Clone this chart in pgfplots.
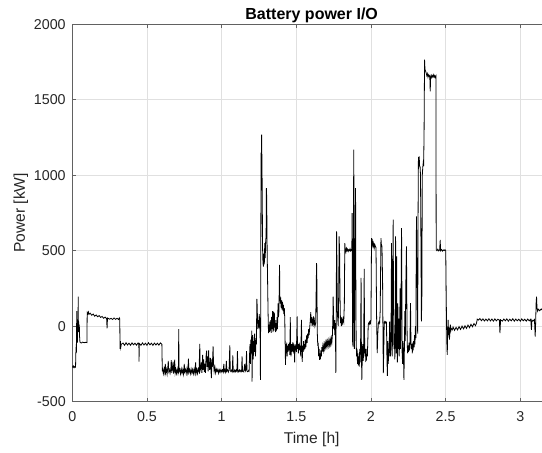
\documentclass[border=0pt]{standalone}
\usepackage{fontspec}
\setmainfont{Liberation Sans}
\usepackage{pgfplots}
\pgfplotsset{compat=1.18}

\definecolor{axgray}{gray}{0.38}
\definecolor{txtgray}{gray}{0.15}
\definecolor{gridgray}{gray}{0.88}

\begin{document}
\begin{tikzpicture}
\begin{axis}[
    name=a,
    scale only axis,
    width=358.4pt, height=283pt,
    xmin=0, xmax=3.2, ymin=-500, ymax=2000,
    xtick={0,0.5,...,3}, ytick={-500,0,...,2000},
    scaled ticks=false,
    /pgf/number format/1000 sep={},
    /pgf/number format/assume math mode=true,
    tick align=inside, major tick length=3pt,
    axis line style={axgray, line width=0.5pt},
    every tick/.style={axgray, line width=0.5pt},
    grid=major, major grid style={gridgray, line width=0.4pt},
    tick label style={font=\fontsize{10.7}{12}\selectfont, text=txtgray},
    xticklabel style={yshift=-3.9pt},
    yticklabel style={xshift=-1.4pt},
    every axis title shift=0pt,
    title={\textbf{Battery power I/O}},
    title style={font=\fontsize{12}{14}\selectfont, at={(axis description cs:0.501,1.0113)}, anchor=base, yshift=0pt},
    xlabel={Time [h]},
    xlabel style={font=\fontsize{11.7}{14}\selectfont, text=txtgray, at={(axis description cs:0.501,-0.112)}, anchor=base, yshift=0pt},
    ylabel={Power [kW]},
    ylabel style={font=\fontsize{11.7}{14}\selectfont, text=txtgray, at={(axis description cs:-0.099,0.5)}, anchor=base, xshift=0pt},
]
\addplot[black, line width=0.6pt] coordinates {
(0.000,-262) (0.004,-272) (0.008,-265) (0.012,-275) (0.016,-268) (0.020,-272) (0.022,-270)
(0.024,-180) (0.026,-140) (0.028,-150) (0.030,100) (0.032,-60) (0.034,-110) (0.036,20)
(0.038,-40) (0.040,196) (0.041,-20) (0.043,30) (0.045,-40) (0.047,10) (0.049,-70)
(0.051,-100) (0.053,-108) (0.060,-112) (0.070,-106) (0.080,-110) (0.090,-107) (0.098,-109)
(0.100,90) (0.104,82) (0.108,94) (0.112,78) (0.12,86) (0.13,72) (0.14,80) (0.15,66)
(0.16,74) (0.17,62) (0.18,70) (0.19,58) (0.20,64) (0.21,52) (0.22,60) (0.230,50)
(0.233,-15) (0.236,54) (0.25,46) (0.26,52) (0.27,44) (0.28,54) (0.29,45) (0.30,52)
(0.31,44) (0.315,55) (0.318,48) (0.320,-150) (0.322,-100) (0.325,-140) (0.328,-120)
(0.34,-112) (0.35,-127) (0.36,-110) (0.37,-125) (0.38,-113) (0.39,-127) (0.40,-111)
(0.41,-124) (0.42,-113) (0.43,-126) (0.44,-112) (0.446,-120) (0.447,-235) (0.449,-115)
(0.46,-127) (0.47,-111) (0.48,-125) (0.49,-113) (0.50,-127) (0.51,-110) (0.52,-124)
(0.53,-113) (0.54,-127) (0.55,-112) (0.56,-125) (0.57,-113) (0.58,-126) (0.59,-111)
(0.600,-120) (0.603,-300)
(0.605,-285) (0.610,-315) (0.615,-280) (0.620,-310) (0.623,-250) (0.626,-305) (0.630,-285)
(0.635,-318) (0.640,-270) (0.643,-230) (0.646,-300) (0.650,-288) (0.655,-312) (0.660,-282)
(0.663,-225) (0.666,-310) (0.670,-285) (0.675,-235) (0.678,-315) (0.682,-290) (0.686,-222)
(0.689,-310) (0.693,-287) (0.698,-314) (0.703,-283) (0.708,-312) (0.711,-290) (0.713,-20)
(0.715,-300) (0.720,-286) (0.725,-316) (0.730,-284) (0.735,-312) (0.740,-288) (0.745,-318)
(0.750,-250) (0.753,-302) (0.758,-286) (0.763,-314) (0.768,-282) (0.773,-310) (0.778,-215)
(0.781,-305) (0.786,-288) (0.791,-315) (0.796,-284) (0.801,-311) (0.806,-287) (0.811,-316)
(0.816,-285) (0.821,-310) (0.826,-240) (0.829,-312) (0.834,-286) (0.839,-314) (0.844,-283)
(0.849,-300) (0.854,-117) (0.856,-295) (0.860,-280) (0.865,-240) (0.868,-310) (0.873,-190)
(0.876,-290) (0.880,-220) (0.884,-305) (0.888,-250) (0.892,-310) (0.896,-200) (0.900,-162)
(0.903,-270) (0.906,-200) (0.910,-300) (0.913,-160) (0.916,-250) (0.920,-290) (0.925,-210)
(0.929,-300) (0.932,-345) (0.935,-220) (0.938,-270) (0.943,-134) (0.946,-250) (0.950,-300)
(0.955,-270) (0.960,-310) (0.965,-285) (0.970,-300) (0.975,-286) (0.980,-312) (0.985,-290)
(0.990,-305) (0.995,-288) (1.000,-302) (1.005,-290) (1.010,-305) (1.015,-250) (1.018,-300)
(1.022,-292) (1.027,-306) (1.032,-230) (1.035,-298) (1.040,-290) (1.045,-305) (1.050,-290)
(1.055,-127) (1.058,-295) (1.063,-302) (1.068,-290) (1.072,-300) (1.075,-193) (1.078,-298)
(1.083,-305) (1.088,-290) (1.093,-302) (1.098,-290) (1.103,-300) (1.106,-165) (1.109,-296)
(1.114,-303) (1.119,-290) (1.124,-302) (1.129,-292) (1.134,-300) (1.137,-200) (1.140,-297)
(1.145,-303) (1.150,-292) (1.155,-250) (1.158,-300) (1.163,-290) (1.167,-165) (1.170,-298)
(1.175,-302) (1.180,-296) (1.184,-300) (1.187,-200) (1.190,-120) (1.193,-250) (1.196,-90)
(1.199,-180) (1.202,-30) (1.204,-367) (1.206,-150) (1.209,-60) (1.212,-220) (1.215,-100)
(1.218,-170) (1.221,-50) (1.224,-140) (1.227,-200) (1.230,-80) (1.233,-120) (1.236,180)
(1.238,141) (1.240,60) (1.243,-20) (1.246,40) (1.249,-10) (1.252,80) (1.255,20)
(1.258,-60) (1.260,-356) (1.262,200) (1.264,1150) (1.266,900) (1.268,1268) (1.270,1100)
(1.272,900) (1.274,528) (1.277,420) (1.280,395) (1.283,480) (1.286,410) (1.289,550)
(1.292,450) (1.295,560) (1.298,600) (1.300,915) (1.302,850) (1.305,500) (1.308,300)
(1.311,100) (1.314,-47) (1.317,10) (1.320,-40) (1.323,30) (1.326,-30) (1.329,40)
(1.332,-45) (1.335,60) (1.338,-20) (1.341,100) (1.344,-40) (1.347,96) (1.350,-30)
(1.353,90) (1.356,-10) (1.359,40) (1.362,-40) (1.365,20) (1.368,-30) (1.371,60)
(1.374,-20) (1.378,150) (1.381,60) (1.384,100) (1.388,406) (1.390,200) (1.393,150)
(1.396,190) (1.399,120) (1.402,170) (1.405,110) (1.408,160) (1.411,100) (1.414,140)
(1.417,80) (1.420,120) (1.423,50) (1.426,-150) (1.428,-257) (1.430,-120) (1.433,-180)
(1.436,-110) (1.439,-200) (1.442,-130) (1.445,-170) (1.448,-120) (1.451,-160) (1.454,-110)
(1.457,-190) (1.460,60) (1.462,-140) (1.465,-200) (1.468,-120) (1.471,-170) (1.474,-130)
(1.477,-150) (1.480,-110) (1.483,-180) (1.486,-130) (1.489,-240) (1.492,-120) (1.495,-160)
(1.498,-130) (1.501,-170) (1.506,64) (1.508,-150) (1.511,-120) (1.514,-180) (1.517,-140)
(1.520,-110) (1.523,-160) (1.526,-130) (1.530,-200) (1.535,42) (1.537,-150) (1.540,-236)
(1.543,-130) (1.546,-170) (1.549,-100) (1.552,-160) (1.555,-120) (1.558,-150) (1.561,-90)
(1.564,-140) (1.567,-100) (1.570,-60) (1.573,-110) (1.576,-50) (1.580,-80) (1.583,-20)
(1.586,-60) (1.590,-10) (1.594,40) (1.597,92) (1.600,20) (1.603,60) (1.606,0)
(1.609,50) (1.612,10) (1.615,64) (1.618,20) (1.621,40) (1.625,0) (1.630,20)
(1.636,418) (1.638,300) (1.641,-50) (1.644,-130) (1.647,-111) (1.650,-200) (1.653,-150)
(1.656,-223) (1.659,-180) (1.662,-220) (1.665,-160) (1.668,-200) (1.671,-140) (1.674,-170)
(1.678,-130) (1.682,-160) (1.686,-120) (1.690,-150) (1.694,-110) (1.698,-140) (1.702,-105)
(1.706,-135) (1.710,-100) (1.714,-130) (1.718,-95) (1.722,-125) (1.726,-90) (1.730,-120)
(1.734,-80) (1.738,-110) (1.742,-60) (1.745,50) (1.747,196) (1.749,100) (1.752,-20)
(1.755,40) (1.758,-60) (1.762,20) (1.765,-310) (1.768,200) (1.770,627) (1.772,450)
(1.775,100) (1.778,42) (1.781,0) (1.784,200) (1.787,594) (1.790,500) (1.793,200)
(1.796,20) (1.799,60) (1.802,0) (1.806,42) (1.810,20) (1.814,50) (1.818,30)
(1.822,150) (1.825,550) (1.828,506) (1.832,490) (1.836,515) (1.840,500) (1.844,510)
(1.848,495) (1.852,505) (1.856,500) (1.860,512) (1.864,498) (1.868,505) (1.872,500)
(1.874,749) (1.877,-100) (1.880,-135) (1.883,700) (1.885,1169) (1.887,600) (1.889,-150)
(1.892,200) (1.895,700) (1.897,915) (1.899,300) (1.901,-100) (1.904,-200) (1.907,-150)
(1.910,-250) (1.913,-180) (1.916,-260) (1.919,-200) (1.922,-268) (1.925,-150) (1.928,-240)
(1.931,-100) (1.934,320) (1.936,-150) (1.939,-356) (1.942,-200) (1.945,-120) (1.948,-230)
(1.951,-180) (1.955,380) (1.957,-50) (1.960,-200) (1.963,-150) (1.966,-230) (1.970,-223)
(1.973,-150) (1.976,-200) (1.979,-100) (1.982,10) (1.985,20) (1.988,25) (1.991,15)
(1.994,30) (1.997,20) (2.000,40) (2.004,583) (2.007,540) (2.010,561) (2.014,530)
(2.018,550) (2.022,517) (2.026,540) (2.030,528) (2.034,520) (2.038,60) (2.042,-179)
(2.046,-50) (2.050,20) (2.054,30) (2.058,20) (2.062,100) (2.067,583) (2.070,540)
(2.074,528) (2.078,300) (2.081,-100) (2.083,-312) (2.086,-150) (2.089,25) (2.092,30)
(2.096,20) (2.100,30) (2.104,25) (2.107,-200) (2.110,-330) (2.113,-100) (2.116,-250)
(2.119,-150) (2.122,-200) (2.125,30) (2.128,-100) (2.131,-200) (2.134,-150) (2.138,550)
(2.140,100) (2.143,-200) (2.146,300) (2.149,705) (2.151,200) (2.154,-150) (2.157,-50)
(2.160,-220) (2.163,100) (2.165,594) (2.167,200) (2.169,-180) (2.172,462) (2.174,-100)
(2.177,-240) (2.180,150) (2.183,-150) (2.186,50) (2.189,-200) (2.192,-100) (2.195,250)
(2.198,-150) (2.201,100) (2.205,650) (2.207,300) (2.209,-179) (2.212,-250) (2.215,-100)
(2.218,-200) (2.221,-356) (2.224,-150) (2.227,100) (2.230,-100) (2.234,300) (2.238,528)
(2.240,200) (2.243,-120) (2.246,-180) (2.249,-130) (2.252,-170) (2.255,-110) (2.258,-160)
(2.261,-120) (2.265,152) (2.268,-100) (2.271,-150) (2.274,-120) (2.277,-180) (2.280,-110)
(2.283,-160) (2.286,-100) (2.289,-140) (2.292,-60) (2.295,-120) (2.298,0) (2.301,-80)
(2.303,400) (2.305,727) (2.307,500) (2.310,200) (2.313,-50) (2.316,800) (2.318,1120)
(2.321,1100) (2.323,1125) (2.326,1060) (2.329,1058) (2.332,1000) (2.335,528) (2.338,31)
(2.341,200) (2.344,1000) (2.347,1050) (2.350,1081) (2.353,1060) (2.356,1300) (2.359,1766)
(2.362,1700) (2.366,1690) (2.370,1678) (2.374,1660) (2.378,1672) (2.382,1650) (2.386,1665)
(2.390,1655) (2.394,1660) (2.397,1556) (2.400,1650) (2.404,1662) (2.408,1648) (2.412,1660)
(2.416,1652) (2.420,1665) (2.424,1650) (2.428,1660) (2.432,1648) (2.435,1655) (2.437,506)
(2.442,500) (2.448,510) (2.454,498) (2.460,505) (2.464,572) (2.466,500) (2.472,508)
(2.478,497) (2.484,505) (2.490,500) (2.496,506) (2.501,500) (2.504,200) (2.508,-100)
(2.511,-190) (2.514,-50) (2.517,42) (2.520,-60) (2.523,-10) (2.526,-90) (2.529,-20)
(2.532,10) (2.535,-30) (2.538,-15) (2.545,-24) (2.55,-6) (2.56,-28) (2.57,-8)
(2.58,-25) (2.59,-3) (2.60,-22) (2.61,0) (2.62,-18) (2.63,2) (2.64,-15) (2.65,7)
(2.66,-10) (2.67,12) (2.68,-4) (2.69,17) (2.70,3) (2.707,20) (2.712,46) (2.72,40)
(2.73,50) (2.74,36) (2.75,48) (2.76,34) (2.77,47) (2.78,35) (2.79,49) (2.80,34)
(2.81,47) (2.82,33) (2.83,48) (2.84,35) (2.85,46) (2.860,40) (2.864,-47) (2.868,42)
(2.88,33) (2.89,47) (2.90,35) (2.91,48) (2.92,33) (2.93,46) (2.94,35) (2.95,49)
(2.96,33) (2.97,47) (2.98,35) (2.99,46) (3.00,33) (3.01,48) (3.02,35) (3.03,46)
(3.04,33) (3.05,47) (3.06,35) (3.07,46) (3.075,-25) (3.078,40) (3.085,33) (3.095,44)
(3.100,-69) (3.103,20) (3.106,150) (3.109,196) (3.112,120) (3.116,100) (3.12,112)
(3.13,102) (3.14,114) (3.15,104) (3.16,112) (3.17,103) (3.18,113) (3.19,104) (3.2,108)
};
\end{axis}
\pgfresetboundingbox
\path[use as bounding box] ([xshift=-54.2pt,yshift=-38.5pt]a.south west) rectangle ([xshift=352.3pt,yshift=18.2pt]a.north west);
\end{tikzpicture}
\end{document}
